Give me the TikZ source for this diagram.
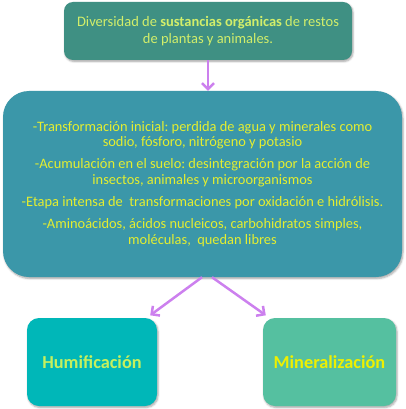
\documentclass[tikz,border=0pt]{standalone}
\usepackage{fontspec}
\setmainfont{Carlito}
\usepackage{tikz}
\usetikzlibrary{arrows.meta,positioning,shadows.blur}
\frenchspacing

\definecolor{TopTeal}{HTML}{3F9083}
\definecolor{MainTeal}{HTML}{3B97A9}
\definecolor{HumTeal}{HTML}{00B7B8}
\definecolor{MinGreen}{HTML}{55C0A0}
\definecolor{ArrViolet}{HTML}{CC80EE}
\definecolor{TxtLime}{HTML}{D2EE6A}
\definecolor{TxtYellow}{HTML}{E4EE30}
\definecolor{TxtHum}{HTML}{C6F05E}
\definecolor{TxtMin}{HTML}{EEF000}

\begin{document}
\begin{tikzpicture}[x=1pt, y=-1pt, box/.style={rounded corners=#1, align=center, inner sep=0pt, blur shadow={shadow blur steps=5, shadow xshift=1pt, shadow yshift=-1.5pt, shadow opacity=35}}, arr/.style={-{Straight Barb[length=6pt,width=12pt]}, line width=2.5pt, ArrViolet}]
\useasboundingbox (0,0) rectangle (405,409);
\node[box=9pt, fill=TopTeal, text=TxtLime, minimum width=288pt, minimum height=58pt, font=\fontsize{14.5}{16.7}\selectfont] (origen) at (208,31) {Diversidad de \textbf{sustancias orgánicas} de restos\\de plantas y animales.};
\node[box=26pt, fill=MainTeal, text=TxtYellow, minimum width=399pt, minimum height=186pt, font=\fontsize{14.4}{15.6}\selectfont] (proceso) at (202.5,184) {-Transformación inicial: perdida de agua y minerales como\\sodio, fósforo, nitrógeno y potasio\\[6.5pt]
-Acumulación en el suelo: desintegración por la acción de\\insectos, animales y microorganismos\\[6.5pt]
-Etapa intensa de\ \ transformaciones por oxidación e hidrólisis.\\[6.5pt]
-Aminoácidos, ácidos nucleicos, carbohidratos simples,\\moléculas,\ \ quedan libres};
\node[box=12pt, fill=HumTeal, text=TxtHum, minimum width=130pt, minimum height=88pt, font=\fontsize{18.3}{21}\selectfont\bfseries] (humif) at (92,362) {Humificación};
\node[box=12pt, fill=MinGreen, text=TxtMin, minimum width=133pt, minimum height=88pt, font=\fontsize{18.3}{21}\selectfont\bfseries] (miner) at (329.5,362) {Mineralización};
\draw[arr] (origen.south) -- (origen.south |- proceso.north);
\draw[arr] ([xshift=-0.5pt]proceso.south) -- ([xshift=-7pt,yshift=2.5pt]humif.north east);
\draw[arr] ([xshift=9.5pt]proceso.south) -- ([xshift=3pt,yshift=2.5pt]miner.north west);
\end{tikzpicture}
\end{document}
